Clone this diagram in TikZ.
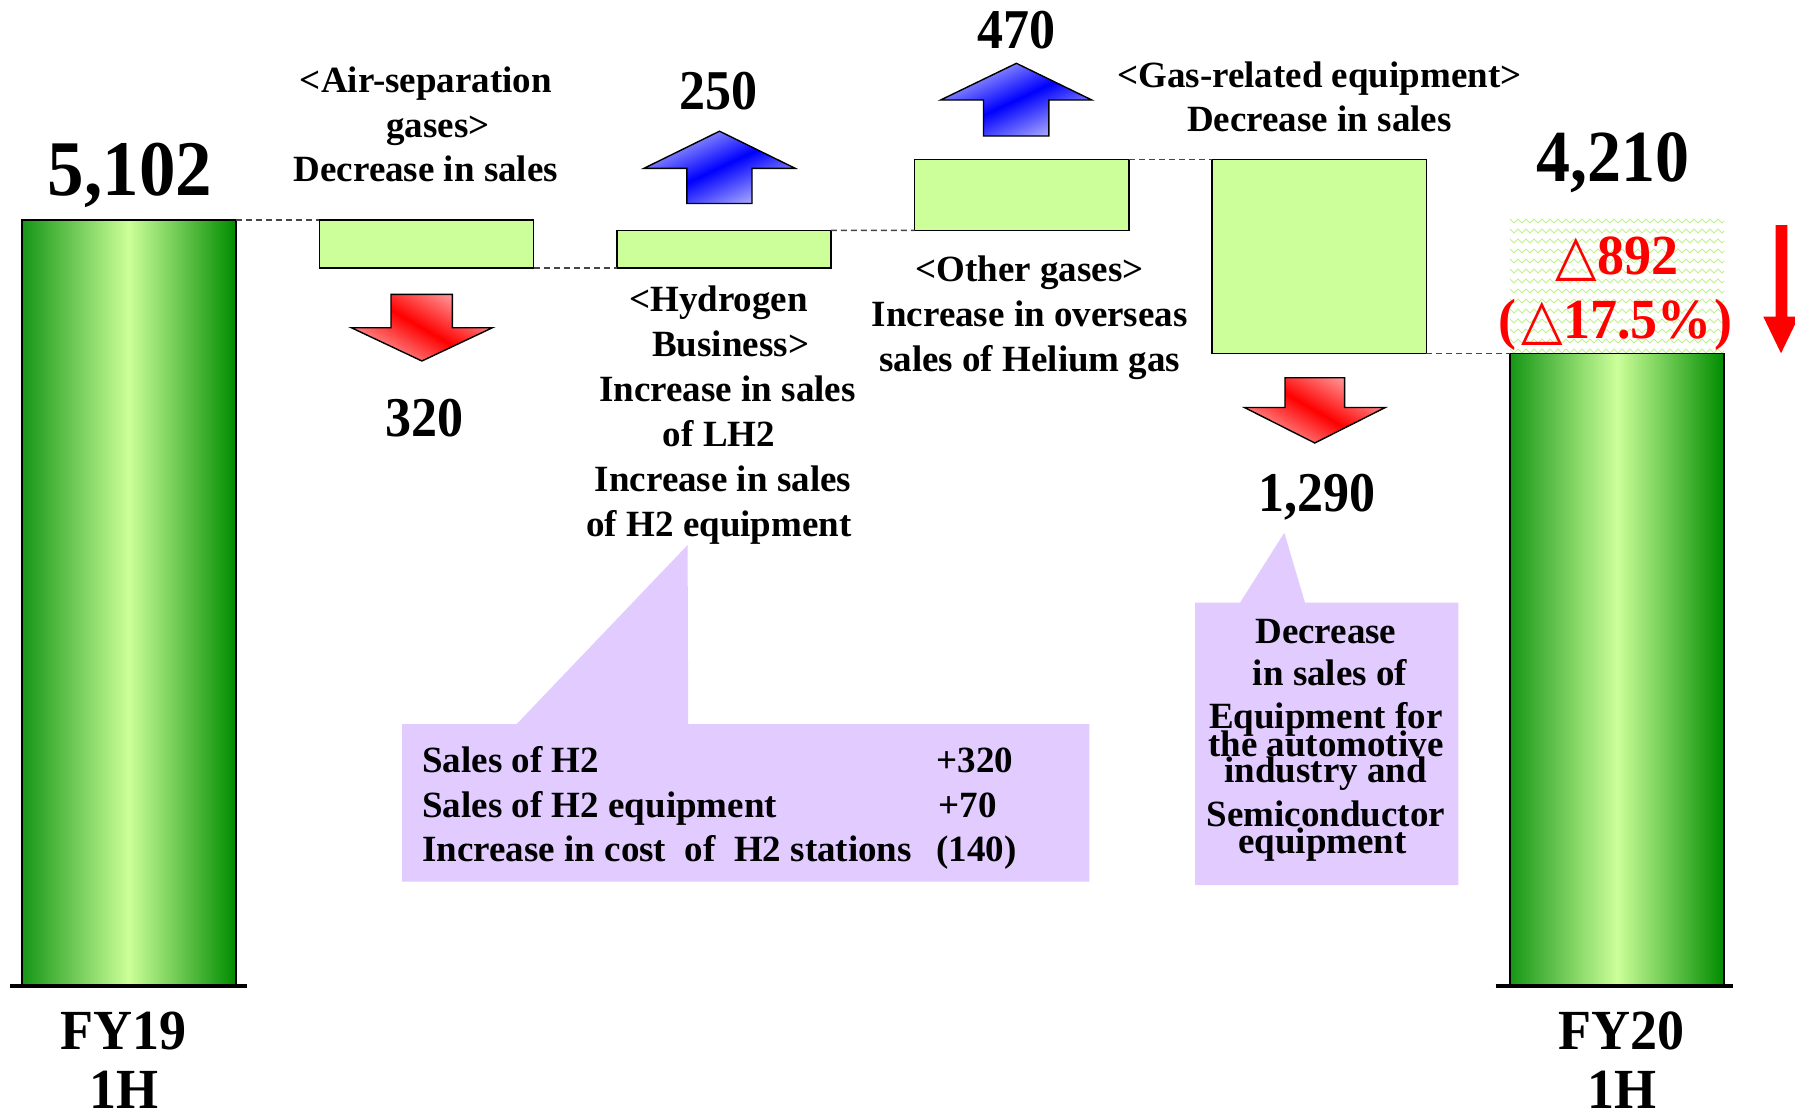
\documentclass[tikz,border=0pt]{standalone}
\usepackage{fontspec}
\usepackage{graphicx}
\setmainfont{Liberation Serif}
\newfontfamily\symfont{DejaVu Sans}
\usetikzlibrary{decorations.pathmorphing}
\definecolor{boxgreen}{RGB}{204,255,153}
\definecolor{bardark}{RGB}{22,150,22}
\definecolor{bardarkR}{RGB}{0,140,0}
\definecolor{purp}{RGB}{226,203,255}
\definecolor{redlight}{RGB}{255,165,165}
\definecolor{bluelight}{RGB}{180,180,255}
\definecolor{zig}{RGB}{190,240,140}
\definecolor{leadgray}{RGB}{70,70,70}
\newcommand\tallT[1]{\scalebox{1}[1.08]{#1}}
\newcommand\tallY[1]{\scalebox{1}[1.05]{#1}}
\tikzset{
  txt/.style={font=\fontsize{37}{44}\selectfont\bfseries, inner sep=0, anchor=base},
  txtl/.style={txt, anchor=base west},
  num/.style={font=\fontsize{52}{60}\selectfont\bfseries, inner sep=0, anchor=base},
  bignum/.style={font=\fontsize{73}{80}\selectfont\bfseries, inner sep=0, anchor=base},
  yearlbl/.style={font=\fontsize{54}{60}\selectfont\bfseries, inner sep=0, anchor=base},
  redlbl/.style={font=\fontsize{54}{60}\selectfont\bfseries, inner sep=0, anchor=base, text=red},
  wfbox/.style={draw=black, line width=1.6, fill=boxgreen, rectangle, inner sep=0, outer sep=0, anchor=north west},
  wfbar/.style={draw=black, line width=1.6, rectangle, inner sep=0, outer sep=0, anchor=north west,
     left color=bardark, right color=bardarkR, middle color=boxgreen},
  lead/.style={draw=leadgray, line width=1.4, dash pattern=on 6pt off 4pt},
  downarr/.style={draw=black, line width=1.4, top color=redlight, bottom color=redlight, middle color=red, shading angle=-30},
  uparr/.style={draw=black, line width=1.4, top color=bluelight, bottom color=bluelight, middle color=blue, shading angle=25},
  zigline/.style={draw=zig, line width=1, decorate, decoration={zigzag, segment length=8pt, amplitude=2pt}},
  baseln/.style={line width=4},
}
\begin{document}
\begin{tikzpicture}[x=1pt,y=-1pt]
\useasboundingbox (0,0) rectangle (1795,1116);

% pattern background behind the change label
\begin{scope}
  \clip (1510,218) rectangle (1724,353.5);
  \foreach \yy in {221,231,...,351} \draw[zigline] (1500,\yy) -- (1740,\yy);
\end{scope}

% bars
\node[wfbar, minimum width=214, minimum height=764.7] (barL) at (21.7,219.8) {};
\node[wfbar, minimum width=214, minimum height=631] (barR) at (1510,353.5) {};
\draw[baseln] (10,985.5) -- (247,985.5);
\draw[baseln] (1495.7,985.5) -- (1732.7,985.5);

% waterfall boxes
\node[wfbox, minimum width=214.1, minimum height=48] (b1) at (319.4,219.8) {};
\node[wfbox, minimum width=213.6, minimum height=37.5] (b2) at (617.2,230.3) {};
\node[wfbox, minimum width=214.3, minimum height=70.7] (b3) at (914.6,159.6) {};
\node[wfbox, minimum width=214.7, minimum height=193.9] (b4) at (1211.7,159.6) {};

% leader lines
\draw[lead] (barL.north east) -- (b1.north west);
\draw[lead] (b1.south east) -- (b2.south west);
\draw[lead] (b2.north east) -- (b3.south west);
\draw[lead] (b3.north east) -- (b4.north west);
\draw[lead] (b4.south east) -- (barR.north west);

% block arrows
\path[downarr] (391,294.3) -- (452.4,294.3) -- (452.4,327.7) -- (492.5,327.7) -- (421.9,361) -- (351.3,327.7) -- (391,327.7) -- cycle;
\path[downarr] (1285,377.7) -- (1344.6,377.7) -- (1344.6,407.5) -- (1385.2,407.5) -- (1314.8,443) -- (1244.4,407.5) -- (1285,407.5) -- cycle;
\path[uparr] (686.8,203.5) -- (686.8,168.3) -- (644,168.3) -- (719.5,131.2) -- (795.1,168.3) -- (752,168.3) -- (752,203.5) -- cycle;
\path[uparr] (983.5,136) -- (983.5,100) -- (940.6,100) -- (1016.4,63.3) -- (1091.8,100) -- (1048.9,100) -- (1048.9,136) -- cycle;

% far right red arrow
\fill[red] (1775.7,225) -- (1787.3,225) -- (1787.3,316.7) -- (1798.7,316.7) -- (1781,353.3) -- (1763.3,316.7) -- (1775.7,316.7) -- cycle;

% callouts
\fill[purp] (402,724) -- (516.7,724) -- (687.6,545) -- (688.2,724) -- (1089.4,724) -- (1089.4,881.7) -- (402,881.7) -- cycle;
\fill[purp] (1195,602.7) -- (1240,602.7) -- (1284.3,532.7) -- (1305,602.7) -- (1458.3,602.7) -- (1458.3,885) -- (1195,885) -- cycle;

% big totals
\node[bignum] (v1) at (130.1,195) {\tallT{5,102}};
\node[bignum, font=\fontsize{68}{76}\selectfont\bfseries] (v2) at (1613.2,181.7) {\tallT{4,210}};

% deltas
\node[num] (d1) at (424,436) {\tallT{320}};
\node[num] (d2) at (718.7,109) {\tallT{250}};
\node[num] (d3) at (1016.2,48.3) {\tallT{470}};
\node[num] (d4) at (1316.5,511.7) {\tallT{1,290}};

% category labels
\node[txt] (a1) at (425.9,92.5) {<Air-separation};
\node[txt] (a2) at (437.9,137.1) {gases>};
\node[txt] (a3) at (425.9,181.7) {Decrease in sales};

\node[txt] (h1) at (718.6,311) {<Hydrogen};
\node[txt] (h2) at (730.7,356) {Business>};
\node[txt] (h3) at (727.5,401) {Increase in sales};
\node[txt] (h4) at (719,446) {of LH2};
\node[txt] (h5) at (723,491) {Increase in sales};
\node[txt] (h6) at (719,536) {of H2 equipment};

\node[txt] (o1) at (1029.5,281) {<Other gases>};
\node[txt] (o2) at (1029.8,326) {Increase in overseas};
\node[txt] (o3) at (1029.8,371) {sales of Helium gas};

\node[txt] (g1) at (1319.4,87.3) {<Gas-related equipment>};
\node[txt] (g2) at (1319.4,131.7) {Decrease in sales};

% callout 1 text
\node[txtl] (c11) at (422.2,772.7) {Sales of H2};
\node[txtl] (c12) at (422.2,817.5) {Sales of H2 equipment};
\node[txtl] (c13) at (422.2,861) {Increase in cost\ \ of\ \ H2 stations};
\node[txtl] (c14) at (936.5,772.7) {+320};
\node[txtl] (c15) at (938.3,817.5) {+70};
\node[txtl] (c16) at (936,861) {(140)};

% callout 2 text
\node[txt] (c21) at (1325.8,643.3) {Decrease};
\node[txt] (c22) at (1330,685) {in sales of};
\node[txt] (c23) at (1325.8,728) {Equipment for};
\node[txt] (c24) at (1325.8,756.5) {the automotive};
\node[txt] (c25) at (1325.8,782.5) {industry and};
\node[txt] (c26) at (1326,826) {Semiconductor};
\node[txt] (c27) at (1322.5,853) {equipment};

% change label
\node[redlbl] (r1) at (1616.9,274) {\tallY{{\symfont\fontsize{54}{60}\selectfont △}892}};
\node[redlbl] (r2) at (1615.9,338.3) {\tallY{(\hspace{5pt}{\symfont\fontsize{54}{60}\selectfont △}17.5\%\hspace{3pt})}};

% year labels
\node[yearlbl] (y1) at (123.3,1049) {\tallY{FY19}};
\node[yearlbl] (y2) at (124.2,1108.5) {\tallY{1H}};
\node[yearlbl] (y3) at (1621.7,1049) {\tallY{FY20}};
\node[yearlbl] (y4) at (1621.7,1108.5) {\tallY{1H}};
\end{tikzpicture}
\end{document}
